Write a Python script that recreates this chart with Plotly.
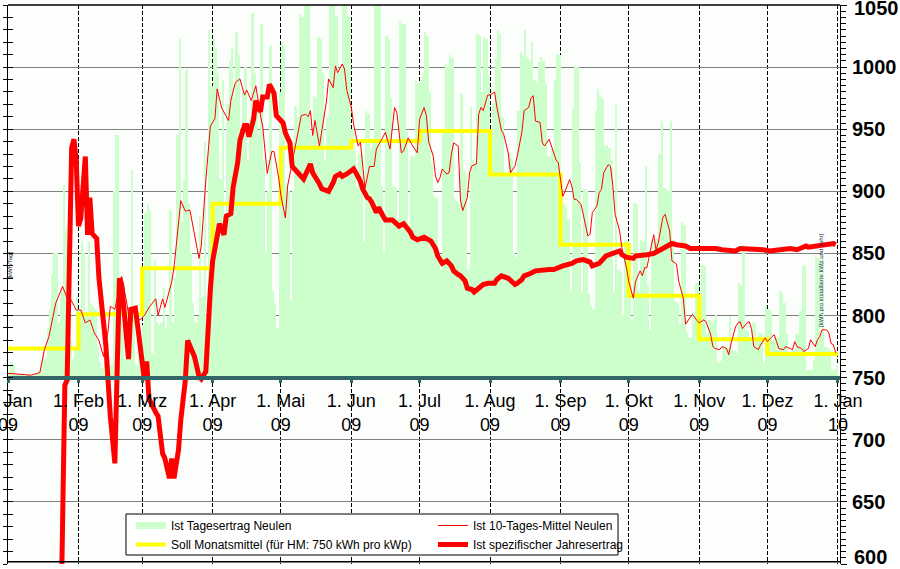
import pandas as pd
import plotly.graph_objects as go

YEAR_START = pd.Timestamp("2009-01-01")

# Ist Tagesertrag Neulen (kWh per kWp and day), one value per day, read per month
jan = [0.08, 0.25, 0.2, 0.06, 0.04, 0.05, 0.04, 0.03, 0.05, 0.04, 0.03, 0.05, 0.06, 0.1, 0.2, 0.35,
       0.3, 0.8, 1.1, 1.65, 2.0, 2.0, 0.9, 1.4, 3.1, 2.4, 1.9, 0.6, 0.3, 0.5, 1.3]
feb = [1.1, 2.2, 2.0, 1.0, 2.2, 1.2, 1.15, 1.1, 0.5, 0.25, 0.15, 0.3, 0.3, 0.2, 0.2, 3.0, 3.9, 3.9,
       1.5, 0.8, 0.3, 0.3, 0.9, 3.35, 1.0, 0.2, 0.5, 0.3]
mar = [0.85, 2.65, 2.8, 2.7, 0.4, 1.9, 0.9, 0.85, 0.9, 1.45, 0.8, 1.0, 2.7, 0.9, 1.6, 3.9, 5.45, 2.5,
       3.2, 4.95, 2.8, 2.0, 1.2, 0.9, 1.0, 2.6, 1.3, 3.8, 0.6, 5.6, 4.7]
apr = [5.45, 5.3, 4.9, 3.2, 4.8, 2.5, 4.4, 5.1, 5.3, 4.5, 5.57, 5.2, 3.8, 4.6, 5.0, 3.5, 4.2, 5.87,
       4.9, 4.3, 3.9, 5.69, 3.5, 2.0, 3.0, 5.34, 1.4, 1.2, 0.8, 4.6]
may = [5.4, 5.35, 3.1, 3.0, 1.25, 3.0, 4.38, 4.2, 5.86, 5.8, 6.2, 6.25, 6.2, 3.9, 4.54, 4.5, 5.48,
       5.45, 4.9, 3.5, 4.2, 6.2, 6.3, 6.0, 5.83, 4.9, 5.0, 6.2, 6.25, 5.83, 5.8]
jun = [4.0, 3.65, 3.07, 3.62, 3.6, 2.2, 4.3, 4.25, 3.68, 3.84, 6.2, 6.25, 6.0, 3.09, 2.0, 5.5, 5.45,
       4.5, 3.09, 3.05, 2.55, 5.72, 5.7, 5.7, 3.95, 2.44, 3.57, 3.55, 4.78, 4.75]
jul = [4.8, 4.9, 5.56, 5.5, 4.6, 3.45, 2.92, 2.9, 1.9, 1.74, 3.95, 5.05, 5.0, 5.19, 5.15, 2.87, 2.85,
       2.79, 4.57, 3.35, 3.3, 1.74, 4.35, 3.5, 3.45, 5.54, 5.5, 4.6, 5.48, 5.45, 4.86]
aug = [3.4, 4.43, 5.13, 5.6, 5.55, 4.2, 3.3, 3.25, 3.62, 3.52, 2.0, 1.95, 4.3, 5.24, 5.2, 5.59, 5.16,
       5.1, 5.4, 4.8, 4.75, 5.08, 5.16, 5.1, 4.75, 3.57, 3.55, 3.68, 4.8, 5.21, 5.2]
sep = [3.0, 2.79, 2.75, 2.55, 1.4, 4.32, 5.02, 5.0, 3.46, 1.4, 3.03, 3.0, 1.35, 1.15, 1.1, 4.3, 4.65,
       4.54, 4.5, 3.73, 3.75, 3.7, 3.5, 1.4, 4.4, 1.74, 1.7, 1.01, 2.22, 2.2]
oct_ = [1.3, 0.93, 2.82, 2.8, 1.4, 2.22, 2.2, 3.41, 1.5, 0.77, 2.22, 2.2, 2.25, 3.6, 4.14, 3.05, 3.03,
        3.0, 4.14, 2.22, 1.23, 1.2, 0.85, 2.5, 2.45, 0.74, 0.66, 0.64, 1.04, 1.53, 1.52]
nov = [0.7, 1.82, 1.8, 0.7, 0.93, 0.9, 0.95, 1.01, 0.25, 0.27, 0.53, 0.5, 0.48, 0.99, 0.45, 0.43, 0.4,
       1.52, 1.5, 2.14, 0.77, 0.75, 0.66, 0.9, 0.88, 0.6, 0.72, 0.7, 0.23, 1.17]
dec = [1.1, 1.08, 0.6, 0.66, 0.64, 1.39, 1.37, 1.2, 0.7, 0.4, 0.42, 0.45, 0.72, 0.7, 1.07, 1.82, 1.8,
       0.12, 0.13, 0.12, 0.28, 1.95, 1.93, 0.7, 2.0, 0.5, 0.48, 0.45, 0.12, 0.13, 0.2]

# Ist 10-Tages-Mittel Neulen (kWh/kWp per day): day of year, value
avg10_day = [0, 5, 10, 14, 16, 18, 21, 24, 26, 27, 30, 32, 34, 36, 38, 40, 42, 44, 45, 47, 50, 52, 54,
             55, 58, 60, 62, 65, 66, 68, 69, 72, 73, 76, 78, 80, 82, 84, 85, 87, 89, 91, 92, 94, 97,
             98, 100, 102, 104, 105, 107, 109, 111, 112, 114, 116, 117, 119, 120, 122, 123, 124, 126,
             127, 129, 131, 132, 133, 134, 135, 137, 138, 140, 141, 143, 144, 145, 147, 148, 149, 151,
             152, 154, 155, 156, 157, 159, 161, 162, 164, 166, 168, 170, 171, 173, 174, 176, 178, 180,
             181, 183, 184, 185, 187, 188, 189, 190, 191, 193, 194, 195, 196, 198, 199, 200, 202, 203,
             204, 206, 207, 208, 209, 211, 212, 214, 215, 217, 218, 220, 221, 223, 224, 226, 227, 229,
             230, 231, 232, 234, 235, 236, 238, 240, 241, 242, 244, 245, 247, 248, 249, 250, 252, 253,
             255, 256, 257, 259, 260, 261, 262, 264, 265, 266, 267, 269, 270, 272, 273, 275, 276, 278,
             279, 280, 281, 283, 284, 285, 286, 288, 289, 291, 292, 294, 295, 297, 298, 300, 301, 303,
             304, 306, 307, 309, 310, 311, 313, 314, 316, 317, 318, 320, 321, 322, 323, 325, 326, 327,
             328, 330, 331, 333, 334, 336, 337, 338, 339, 341, 342, 344, 345, 346, 347, 349, 350, 352,
             353, 355, 356, 357, 358, 360, 361, 362, 363, 364]
avg10_val = [0.07, 0.05, 0.04, 0.08, 0.45, 0.66, 1.2, 1.47, 1.28, 1.3, 1.09, 1.09, 0.88, 0.93, 0.72,
             0.6, 0.34, 0.75, 1.15, 1.1, 1.63, 1.25, 0.8, 1.07, 0.93, 1.0, 1.13, 1.27, 1.0, 1.27, 1.13,
             1.54, 1.77, 2.85, 2.68, 2.7, 2.3, 1.92, 2.12, 3.18, 4.05, 4.17, 4.65, 4.34, 4.14, 4.46,
             4.75, 4.81, 4.55, 4.63, 4.46, 4.7, 4.23, 4.05, 3.29, 3.64, 3.64, 3.23, 2.94, 2.57, 3.09,
             3.27, 3.65, 3.84, 4.22, 4.24, 4.2, 4.3, 3.9, 4.14, 3.73, 3.97, 4.43, 4.81, 4.67, 5.02,
             4.91, 5.05, 4.97, 4.63, 4.35, 4.08, 3.73, 3.79, 3.41, 3.05, 3.4, 3.4, 3.68, 3.81, 3.95,
             3.68, 4.35, 4.27, 3.62, 3.65, 3.86, 3.73, 3.62, 4.16, 4.35, 4.22, 3.8, 3.57, 3.25, 3.14,
             3.22, 3.36, 3.28, 3.3, 3.6, 3.78, 3.73, 2.86, 2.69, 2.9, 3.3, 3.41, 3.44, 4.24, 4.35, 4.3,
             4.55, 4.55, 4.6, 4.36, 3.98, 3.92, 3.62, 3.3, 3.41, 3.57, 3.95, 4.3, 4.35, 4.5, 4.54, 4.13,
             4.11, 3.78, 3.73, 3.84, 3.62, 3.51, 3.46, 2.92, 3.0, 3.19, 3.08, 2.87, 2.87, 2.79, 2.63,
             2.28, 2.31, 2.66, 2.76, 2.98, 3.03, 3.3, 3.43, 3.4, 3.09, 2.63, 2.36, 2.09, 1.77, 1.55,
             1.28, 1.55, 1.72, 1.64, 1.77, 1.77, 2.14, 2.3, 2.06, 2.17, 2.58, 2.63, 2.36, 1.88, 1.83,
             1.55, 1.28, 0.86, 0.97, 1.02, 0.92, 0.88, 0.93, 0.9, 0.7, 0.5, 0.47, 0.45, 0.5, 0.47,
             0.37, 0.55, 0.82, 0.88, 0.9, 0.79, 0.88, 0.9, 0.79, 0.5, 0.45, 0.53, 0.64, 0.58, 0.66,
             0.69, 0.58, 0.47, 0.45, 0.5, 0.47, 0.45, 0.58, 0.5, 0.47, 0.42, 0.47, 0.61, 0.5, 0.61,
             0.66, 0.77, 0.77, 0.72, 0.55, 0.53, 0.4]

# Ist spezifischer Jahresertrag (kWh/kWp and year, right axis): day of year, value
annual_day = [23, 24, 25, 26, 27, 28, 29, 30, 31, 32, 34, 35, 36, 37, 39, 40, 43, 45, 47, 48, 49, 50,
              51, 52, 53, 54, 56, 57, 59, 60, 61, 62, 65, 66, 68, 69, 71, 72, 73, 75, 76, 78, 79, 81,
              82, 84, 85, 87, 88, 89, 90, 92, 93, 95, 96, 98, 99, 101, 102, 104, 105, 106, 108, 109,
              111, 112, 114, 115, 117, 118, 120, 121, 122, 124, 125, 127, 128, 130, 133, 134, 136,
              137, 138, 141, 143, 144, 146, 147, 149, 150, 152, 153, 155, 156, 158, 159, 160, 162,
              163, 165, 166, 169, 171, 172, 174, 175, 177, 178, 180, 183, 186, 188, 189, 191, 193,
              195, 196, 198, 199, 201, 202, 204, 205, 207, 209, 211, 214, 215, 217, 220, 221, 223,
              224, 226, 227, 229, 230, 232, 235, 238, 240, 243, 244, 248, 250, 253, 256, 257, 260,
              262, 263, 266, 269, 270, 272, 275, 276, 281, 284, 286, 288, 291, 292, 294, 298, 300,
              303, 306, 309, 311, 314, 317, 320, 322, 323, 326, 329, 332, 335, 338, 341, 344, 347,
              350, 351, 352, 355, 358, 361, 363, 364]
annual_val = [520, 660, 744, 748, 860, 935, 942, 925, 872, 878, 928, 865, 895, 866, 862, 830, 777, 719,
              681, 740, 830, 825, 805, 775, 765, 805, 806, 792, 762, 748, 763, 733, 722, 719, 689, 685,
              669, 685, 669, 692, 716, 748, 780, 770, 767, 751, 749, 755, 792, 821, 844, 868, 874, 865,
              880, 882, 903, 923, 941, 953, 953, 944, 958, 973, 964, 976, 976, 986, 979, 961, 957, 955,
              947, 939, 920, 915, 914, 910, 922, 915, 910, 906, 902, 900, 907, 912, 914, 912, 914, 915,
              918, 915, 908, 902, 895, 894, 891, 883, 887, 880, 877, 877, 873, 872, 874, 872, 867, 863,
              861, 863, 860, 854, 848, 842, 844, 840, 836, 833, 832, 828, 822, 821, 819, 822, 825, 826,
              826, 829, 832, 830, 828, 825, 826, 829, 832, 833, 834, 836, 837, 837, 837, 840, 840, 842,
              844, 845, 843, 840, 842, 846, 848, 850, 852, 849, 847, 846, 848, 849, 850, 852, 854, 856,
              858, 857, 856, 854, 854, 854, 855, 854, 853, 852, 852, 854, 854, 854, 853, 853, 852, 853,
              854, 854, 853, 855, 856, 855, 856, 856, 857, 858, 857]

# Soll Monatsmittel (kWh/kWp per day) per month
month_starts = ["2009-01-01", "2009-02-01", "2009-03-01", "2009-04-01", "2009-05-01", "2009-06-01",
                "2009-07-01", "2009-08-01", "2009-09-01", "2009-10-01", "2009-11-01", "2009-12-01",
                "2010-01-01"]
target_monthly = [0.47, 1.02, 1.76, 2.80, 3.70, 3.81, 3.97, 3.27, 2.14, 1.32, 0.62, 0.38]
tick_text = ["1. Jan<br>09", "1. Feb<br>09", "1. Mrz<br>09", "1. Apr<br>09", "1. Mai<br>09",
             "1. Jun<br>09", "1. Jul<br>09", "1. Aug<br>09", "1. Sep<br>09", "1. Okt<br>09",
             "1. Nov<br>09", "1. Dez<br>09", "1. Jan<br>10"]
right_ticks = [600, 650, 700, 750, 800, 850, 900, 950, 1000, 1050]
right_text = ["", "650", "700", "750", "800", "850", "900", "950", "1000", ""]

daily = jan + feb + mar + apr + may + jun + jul + aug + sep + oct_ + nov + dec
day_dates = pd.date_range(YEAR_START, periods=len(daily), freq="D")
avg10_dates = YEAR_START + pd.to_timedelta(avg10_day, unit="D")
annual_dates = YEAR_START + pd.to_timedelta(annual_day, unit="D")

FONT = "Liberation Sans, Arial, sans-serif"
TEAL = "#336666"
AXIS_FONT = dict(size=20, family=FONT, color="black", weight="bold")

fig = go.Figure()
fig.add_trace(go.Bar(x=day_dates, y=daily, width=86400000, offset=0,
                     marker=dict(color="#ccffcc", line=dict(width=0)),
                     name="Ist Tagesertrag Neulen", showlegend=False))
fig.add_trace(go.Scatter(x=[None], y=[None], yaxis="y3", mode="lines",
                         line=dict(color="#ccffcc", width=7),
                         name="Ist Tagesertrag Neulen", legend="legend", legendrank=1))
fig.add_trace(go.Scatter(x=month_starts, y=target_monthly + [target_monthly[-1]], mode="lines",
                         line=dict(color="#ffff00", width=4, shape="hv"),
                         name="Soll Monatsmittel (für HM: 750 kWh pro kWp)", legend="legend",
                         legendrank=2))
fig.add_trace(go.Scatter(x=avg10_dates, y=avg10_val, mode="lines",
                         line=dict(color="#ff0000", width=1),
                         name="Ist 10-Tages-Mittel Neulen", legend="legend2", legendrank=1))
fig.add_trace(go.Scatter(x=annual_dates, y=annual_val, yaxis="y2", mode="lines",
                         line=dict(color="#ff0000", width=5),
                         name="Ist spezifischer Jahresertrag", legend="legend2", legendrank=2))

legend_common = dict(orientation="v", yanchor="top", y=0.0948, xanchor="left",
                     bgcolor="rgba(0,0,0,0)", borderwidth=0, traceorder="normal",
                     font=dict(size=12, family=FONT, color="black"))

fig.update_layout(
    width=900, height=569,
    margin=dict(l=8, r=60, t=5, b=5, autoexpand=False),
    paper_bgcolor="white", plot_bgcolor="#fcfefc",
    font=dict(family=FONT, color="black"),
    bargap=0, barmode="overlay",
    xaxis=dict(type="date", range=["2009-01-01", "2010-01-01 22:00"], anchor="free", position=1 / 3,
               tickmode="array", tickvals=month_starts, ticktext=tick_text,
               ticks="outside", ticklen=3, tickwidth=3, tickcolor=TEAL,
               showline=True, linecolor=TEAL, linewidth=4,
               showgrid=True, gridcolor="black", gridwidth=1, griddash="4px,2px",
               tickfont=dict(size=18, family=FONT, color="black"), zeroline=False,
               ticklabeloverflow="allow", ticklabelstandoff=3, automargin=False),
    yaxis=dict(range=[-3, 6], showticklabels=False, ticks="inside", ticklen=5, tick0=0, dtick=1,
               tickcolor="black", minor=dict(dtick=0.2, ticks="inside", ticklen=5, tickcolor="black",
                                             showgrid=False),
               showgrid=True, gridcolor="#808080", gridwidth=1,
               zeroline=False, showline=True, linecolor="black", linewidth=1,
               automargin=False),
    yaxis3=dict(range=[-3, 6], overlaying="y", side="left", anchor="x", showticklabels=False,
                ticks="outside", ticklen=4, tick0=0, dtick=1, tickcolor="black",
                minor=dict(dtick=0.2, ticks="outside", ticklen=4, tickcolor="black", showgrid=False),
                showgrid=False, zeroline=False, showline=False, automargin=False),
    yaxis2=dict(range=[600, 1050], overlaying="y", side="right", anchor="x",
                tickmode="array", tickvals=right_ticks, ticktext=right_text,
                showgrid=False,
                ticks="outside", ticklen=6, tickcolor="black",
                minor=dict(dtick=5, tick0=600, ticks="outside", ticklen=5, tickcolor="black",
                           showgrid=False),
                tickfont=AXIS_FONT,
                ticklabelstandoff=1, ticklabeloverflow="allow",
                showline=True, linecolor="black", linewidth=1, zeroline=False, automargin=False),
    legend=dict(x=0.1478, **legend_common),
    legend2=dict(x=0.5108, **legend_common),
    showlegend=True,
)

# legend frame
fig.add_shape(type="rect", xref="paper", yref="paper", x0=0.1418, x1=0.7332, y0=0.0161, y1=0.0894,
              fillcolor="white", line=dict(color="black", width=1), layer="above")
# plot frame top / bottom
fig.add_shape(type="line", xref="paper", yref="paper", x0=0, x1=1, y0=1, y1=1,
              line=dict(color="black", width=1.5), layer="above")
fig.add_shape(type="line", xref="paper", yref="paper", x0=0, x1=1, y0=0.004, y1=0.004,
              line=dict(color="black", width=1.5), layer="above")

# end labels of the right axis, kept inside the picture as in the original
fig.add_annotation(text="600", xref="paper", yref="paper", x=1.0144, y=0.0125, xanchor="left",
                   yanchor="middle", showarrow=False, font=AXIS_FONT)
fig.add_annotation(text="1050", xref="paper", yref="paper", x=1.0144, y=0.9955, xanchor="left",
                   yanchor="middle", showarrow=False, font=AXIS_FONT)
fig.add_annotation(text="[kWh/Tag]", xref="paper", yref="paper", x=-0.004, y=0.535,
                   textangle=-90, showarrow=False, font=dict(size=6, color="#222244"))
fig.add_annotation(text="[kWh pro installierte kWp und Jahr]", xref="paper", yref="paper",
                   x=0.983, y=0.508, textangle=-90, showarrow=False,
                   font=dict(size=6, color="#222244"))

fig.write_html("out.html")
